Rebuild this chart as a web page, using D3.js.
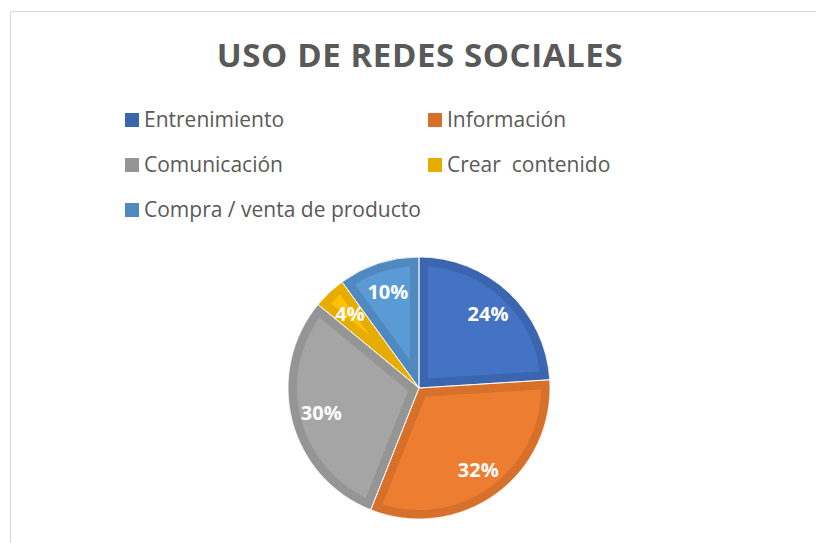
<!DOCTYPE html>
<html>
<head>
<meta charset="utf-8">
<script src="https://cdn.jsdelivr.net/npm/d3@7"></script>
<style>
  body { margin: 0; background: #fff; }
  text { font-family: 'Open Sans', 'Noto Sans', sans-serif; }
</style>
</head>
<body>
<div id="chart"></div>
<script>
// Chart data
var categories = ['Entrenimiento', 'Información', 'Comunicación', 'Crear  contenido', 'Compra / venta de producto'];
var values = [24, 32, 30, 4, 10];
var fills = ['#4472C4', '#ED7D31', '#A5A5A5', '#FFC000', '#5B9BD5'];
var edges = ['#3C65B0', '#D6702B', '#959595', '#E6AD00', '#5089BF'];
var chartTitle = 'USO DE REDES SOCIALES';

var width = 816,
  height = 543,
  cx = 419,
  cy = 388,
  radius = 131;

var svg = d3.select('#chart').append('svg')
  .attr('width', width)
  .attr('height', height);

// chart frame (only left and top edge are inside the picture)
svg.append('rect')
  .attr('x', 10.5)
  .attr('y', 11.5)
  .attr('width', width)
  .attr('height', height)
  .attr('fill', '#fff')
  .attr('stroke', '#D9D9D9');

// title
svg.append('text')
  .attr('x', 420)
  .attr('y', 67)
  .attr('text-anchor', 'middle')
  .style('font-size', '33px')
  .style('letter-spacing', '0.6px')
  .style('font-weight', 'bold')
  .style('fill', '#595959')
  .text(chartTitle);

// legend, two columns
var legend = svg.append('g').selectAll('g')
  .data(categories)
  .enter()
  .append('g')
  .attr('transform', function(d, i) {
    return 'translate(' + (i % 2 === 0 ? 125 : 428) + ',' + (127 + Math.floor(i / 2) * 45) + ')';
  });

legend.append('rect')
  .attr('x', 0)
  .attr('y', -14)
  .attr('width', 14)
  .attr('height', 14)
  .attr('fill', function(d, i) { return edges[i]; });

legend.append('text')
  .attr('x', 19)
  .attr('y', 0)
  .style('font-size', '21px')
  .style('fill', '#595959')
  .style('white-space', 'pre')
  .text(function(d) { return d; });

// pie
var pie = d3.pie().sort(null).value(function(d) { return d; });
var arc = d3.arc().innerRadius(0).outerRadius(radius);
var labelArc = d3.arc().innerRadius(radius * 0.77).outerRadius(radius * 0.77);
var arcs = pie(values);

var g = svg.append('g')
  .attr('transform', 'translate(' + cx + ',' + cy + ')');

var defs = svg.append('defs');
defs.selectAll('clipPath')
  .data(arcs)
  .enter()
  .append('clipPath')
  .attr('id', function(d, i) { return 'clip' + i; })
  .append('path')
  .attr('d', arc);

// slice with a darker inner rim (bevel look)
g.selectAll('path.slice')
  .data(arcs)
  .enter()
  .append('path')
  .attr('class', 'slice')
  .attr('d', arc)
  .attr('fill', function(d, i) { return fills[i]; })
  .attr('stroke', function(d, i) { return edges[i]; })
  .attr('stroke-width', 18)
  .attr('clip-path', function(d, i) { return 'url(#clip' + i + ')'; });

g.selectAll('path.sep')
  .data(arcs)
  .enter()
  .append('path')
  .attr('class', 'sep')
  .attr('d', arc)
  .attr('fill', 'none')
  .attr('stroke', '#fff')
  .attr('stroke-width', 0.8);

g.selectAll('text')
  .data(arcs)
  .enter()
  .append('text')
  .attr('transform', function(d) { return 'translate(' + labelArc.centroid(d) + ')'; })
  .attr('dy', '0.35em')
  .attr('text-anchor', 'middle')
  .style('font-size', '20px')
  .style('font-weight', 'bold')
  .style('fill', '#fff')
  .text(function(d) { return d.data + '%'; });
</script>
</body>
</html>
